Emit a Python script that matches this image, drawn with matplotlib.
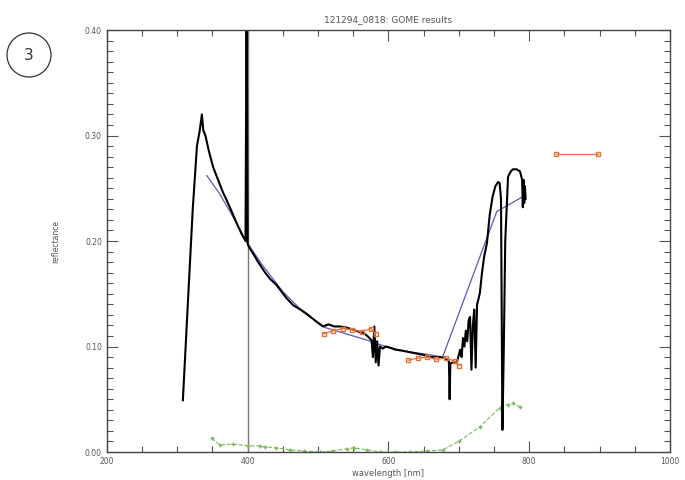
import numpy as np
import matplotlib
matplotlib.use('Agg')
import matplotlib.pyplot as plt
from matplotlib.patches import Circle
from matplotlib.ticker import MultipleLocator

# measured spectrum (black)
wl_meas = [308, 315, 322, 328, 332, 335, 337, 340, 345, 351, 358, 365, 370, 378,
           385, 392, 397, 398.5, 400, 403, 407, 415, 425, 432, 440, 446, 455, 465,
           475, 484, 495, 507, 515, 523, 531, 540, 550, 558, 564, 570, 576, 578,
           580, 582, 584, 586, 588, 592, 596, 602, 610, 620, 635, 650, 660, 673,
           680, 686, 687, 688, 692, 697, 700, 702, 704, 706, 708, 710, 712, 714,
           716, 718, 720, 722, 724, 726, 728, 730, 733, 736, 740, 744, 748, 752,
           756, 758, 760, 762, 764, 766, 770, 774, 777, 782, 787, 790, 791, 792,
           793, 794, 795]
refl_meas = [0.049, 0.14, 0.23, 0.29, 0.305, 0.32, 0.305, 0.30, 0.285, 0.27, 0.258,
             0.246, 0.239, 0.227, 0.216, 0.206, 0.200, 0.43, 0.197, 0.193, 0.189,
             0.180, 0.170, 0.164, 0.159, 0.154, 0.146, 0.139, 0.135, 0.131, 0.125,
             0.119, 0.121, 0.119, 0.119, 0.118, 0.116, 0.114, 0.113, 0.110, 0.106,
             0.090, 0.119, 0.085, 0.105, 0.082, 0.100, 0.098, 0.100, 0.099, 0.097,
             0.096, 0.094, 0.092, 0.090, 0.090, 0.089, 0.086, 0.050, 0.084, 0.085,
             0.084, 0.092, 0.097, 0.090, 0.108, 0.100, 0.115, 0.105, 0.125, 0.128,
             0.078, 0.120, 0.135, 0.080, 0.140, 0.145, 0.151, 0.170, 0.185, 0.198,
             0.225, 0.242, 0.252, 0.256, 0.255, 0.240, 0.021, 0.100, 0.200, 0.261,
             0.266, 0.268, 0.268, 0.266, 0.258, 0.232, 0.258, 0.236, 0.252, 0.240]

# fitted curve (blue)
wl_fit = [342, 360, 380, 400, 420, 450, 480, 510, 540, 570, 600, 630, 660, 677, 754, 791]
refl_fit = [0.262, 0.245, 0.222, 0.198, 0.178, 0.152, 0.132, 0.118, 0.112, 0.106,
            0.099, 0.095, 0.092, 0.090, 0.228, 0.242]

# orange points
wl_or1 = [508, 522, 535, 548, 562, 575, 582]
refl_or1 = [0.112, 0.115, 0.117, 0.116, 0.114, 0.117, 0.112]
wl_or2 = [628, 642, 655, 668, 682, 695, 700]
refl_or2 = [0.087, 0.089, 0.090, 0.088, 0.089, 0.086, 0.082]
wl_or3 = [838, 898]
refl_or3 = [0.282, 0.282]

# green dashed
wl_gr = [349, 361, 379, 400, 417, 425, 440, 460, 480, 503, 520, 541, 551, 570, 588,
         610, 630, 655, 677, 700, 730, 758, 770, 777, 787]
refl_gr = [0.013, 0.0066, 0.0075, 0.006, 0.0057, 0.005, 0.004, 0.002, 0.001, 0.0,
           0.001, 0.003, 0.004, 0.002, 0.0, 0.0, 0.0, 0.001, 0.002, 0.010, 0.024,
           0.042, 0.045, 0.046, 0.043]

tc = '#555555'
fig = plt.figure(figsize=(6.85, 4.8), dpi=100)
ax = fig.add_axes([0.156, 0.0583, 0.822, 0.8792])

ax.axvline(400, color='#777777', lw=1.0)
ax.plot(wl_gr, refl_gr, '--', color='#7cba5c', lw=0.8, marker='+', ms=3)
ax.plot(wl_fit, refl_fit, color='#5a5ab4', lw=0.9)
ax.plot(wl_meas, refl_meas, color='black', lw=1.5)
for xs, ys in [(wl_or1, refl_or1), (wl_or2, refl_or2), (wl_or3, refl_or3)]:
    ax.plot(xs, ys, color='#e8703a', lw=0.9, marker='s', ms=2.5, mfc='none')

ax.set_xlim(200, 1000)
ax.set_ylim(0, 0.40)
ax.xaxis.set_major_locator(MultipleLocator(200))
ax.xaxis.set_minor_locator(MultipleLocator(50))
ax.yaxis.set_major_locator(MultipleLocator(0.1))
ax.yaxis.set_minor_locator(MultipleLocator(0.01))
ax.yaxis.set_major_formatter(matplotlib.ticker.FormatStrFormatter('%.2f'))
ax.tick_params(which='both', direction='in', top=True, right=True, colors=tc,
               labelsize=5.5, labelcolor=tc, width=0.8)
ax.tick_params(which='major', length=8)
ax.tick_params(which='minor', length=4)
for s in ax.spines.values():
    s.set_color('#444444')
    s.set_linewidth(1.0)

ax.set_title('121294_0818: GOME results', fontsize=6.5, color=tc, pad=6)
ax.set_xlabel('wavelength [nm]', fontsize=6, color=tc, labelpad=2)
ax.set_ylabel('reflectance', fontsize=5.5, color=tc, labelpad=18)

# numbered circle at top left (display coords, origin bottom-left)
fig.patches.append(Circle((29, 480 - 55), 22, transform=None, fill=False,
                          edgecolor='#333333', lw=0.9))
fig.text(29 / 685, 1 - 55 / 480, '3', ha='center', va='center', fontsize=11,
         color='#333333')

fig.savefig('out.png', dpi=100)
